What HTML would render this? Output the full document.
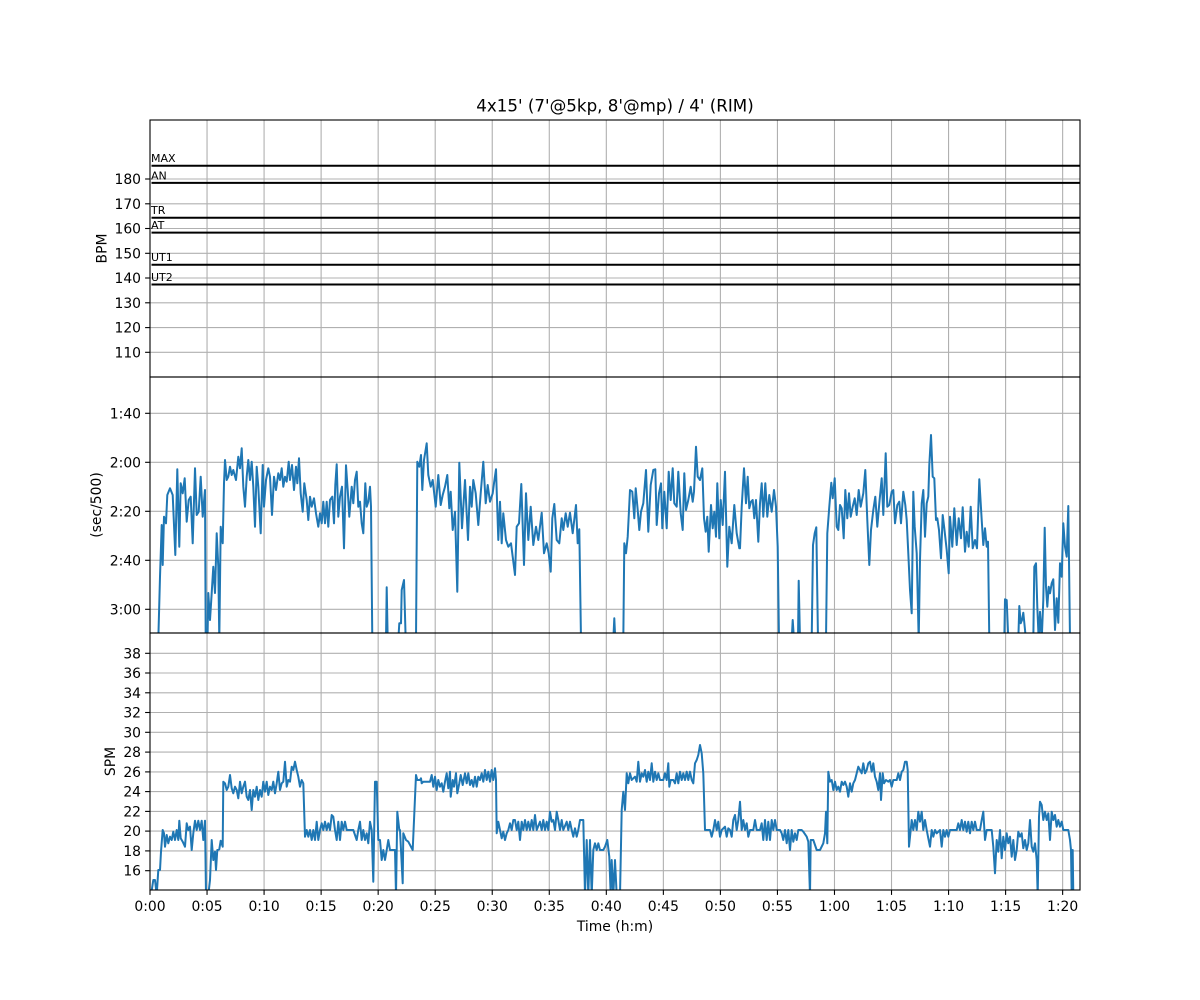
<!DOCTYPE html>
<html><head><meta charset="utf-8"><style>
html,body{margin:0;padding:0;background:#fff;}
svg{display:block;}
text{font-family:"DejaVu Sans","Liberation Sans",sans-serif;fill:#000;}
.tl{font-size:13.9px;}
.g{stroke:#b0b0b0;stroke-width:1.1;fill:none;}
.s{fill:none;stroke:#1f77b4;stroke-width:2;stroke-linejoin:round;stroke-linecap:square;}
.hr{stroke:#000;stroke-width:2;}
.sp{stroke:#000;stroke-width:1.1;fill:none;}
</style></head><body>
<svg width="1200" height="1000" viewBox="0 0 1200 1000" xmlns="http://www.w3.org/2000/svg">
<rect x="0" y="0" width="1200" height="1000" fill="#fff"/>
<defs>
<clipPath id="c2"><rect x="150" y="377" width="930" height="256"/></clipPath>
<clipPath id="c3"><rect x="150" y="633" width="930" height="257"/></clipPath>
</defs>
<!-- vertical grid -->
<g class="g">
<line x1="207.04" y1="120" x2="207.04" y2="890"/>
<line x1="264.08" y1="120" x2="264.08" y2="890"/>
<line x1="321.12" y1="120" x2="321.12" y2="890"/>
<line x1="378.16" y1="120" x2="378.16" y2="890"/>
<line x1="435.2" y1="120" x2="435.2" y2="890"/>
<line x1="492.24" y1="120" x2="492.24" y2="890"/>
<line x1="549.28" y1="120" x2="549.28" y2="890"/>
<line x1="606.32" y1="120" x2="606.32" y2="890"/>
<line x1="663.36" y1="120" x2="663.36" y2="890"/>
<line x1="720.4" y1="120" x2="720.4" y2="890"/>
<line x1="777.44" y1="120" x2="777.44" y2="890"/>
<line x1="834.48" y1="120" x2="834.48" y2="890"/>
<line x1="891.52" y1="120" x2="891.52" y2="890"/>
<line x1="948.56" y1="120" x2="948.56" y2="890"/>
<line x1="1005.6" y1="120" x2="1005.6" y2="890"/>
<line x1="1062.64" y1="120" x2="1062.64" y2="890"/>
<!-- top horizontal -->
<line x1="150" y1="179" x2="1080" y2="179"/>
<line x1="150" y1="203.8" x2="1080" y2="203.8"/>
<line x1="150" y1="228.5" x2="1080" y2="228.5"/>
<line x1="150" y1="253.3" x2="1080" y2="253.3"/>
<line x1="150" y1="278" x2="1080" y2="278"/>
<line x1="150" y1="302.8" x2="1080" y2="302.8"/>
<line x1="150" y1="327.6" x2="1080" y2="327.6"/>
<line x1="150" y1="352.3" x2="1080" y2="352.3"/>
<!-- middle horizontal -->
<line x1="150" y1="413.3" x2="1080" y2="413.3"/>
<line x1="150" y1="462.3" x2="1080" y2="462.3"/>
<line x1="150" y1="511.3" x2="1080" y2="511.3"/>
<line x1="150" y1="560.3" x2="1080" y2="560.3"/>
<line x1="150" y1="609.3" x2="1080" y2="609.3"/>
<!-- bottom horizontal -->
<line x1="150" y1="653.3" x2="1080" y2="653.3"/>
<line x1="150" y1="673" x2="1080" y2="673"/>
<line x1="150" y1="692.8" x2="1080" y2="692.8"/>
<line x1="150" y1="712.5" x2="1080" y2="712.5"/>
<line x1="150" y1="732.3" x2="1080" y2="732.3"/>
<line x1="150" y1="752.1" x2="1080" y2="752.1"/>
<line x1="150" y1="771.9" x2="1080" y2="771.9"/>
<line x1="150" y1="791.6" x2="1080" y2="791.6"/>
<line x1="150" y1="811.4" x2="1080" y2="811.4"/>
<line x1="150" y1="831.1" x2="1080" y2="831.1"/>
<line x1="150" y1="850.9" x2="1080" y2="850.9"/>
<line x1="150" y1="870.7" x2="1080" y2="870.7"/>
</g>
<!-- HR zone lines -->
<g class="hr">
<line x1="151.5" y1="165.7" x2="1080" y2="165.7"/>
<line x1="151.5" y1="182.9" x2="1080" y2="182.9"/>
<line x1="151.5" y1="217.7" x2="1080" y2="217.7"/>
<line x1="151.5" y1="232.6" x2="1080" y2="232.6"/>
<line x1="151.5" y1="264.8" x2="1080" y2="264.8"/>
<line x1="151.5" y1="284.5" x2="1080" y2="284.5"/>
</g>
<g style="font-size:11px">
<text x="151" y="162">MAX</text>
<text x="151" y="179.5">AN</text>
<text x="151" y="214">TR</text>
<text x="151" y="229">AT</text>
<text x="151" y="261">UT1</text>
<text x="151" y="281">UT2</text>
</g>
<!-- pace series -->
<g clip-path="url(#c2)">
<polyline class="s" points="158.3,640 160,576.7 161.7,525 162.7,565 164,516.7 166,523.3 167.3,495 170,488.3 172.7,495 175.3,555 177.3,469.3 179.3,546.7 180.7,483.3 182.7,493.3 184.7,478.3 186.7,521.7 188.7,500 190.7,496.7 192.7,543.3 195,468.3 196.7,515 198.7,511.7 200.7,476.7 202.7,516.7 205,490 205.7,640 207.5,640 208.3,593 210,620 211.7,593 213.3,566.7 215,593 216.7,533.3 218.3,566.7 219.3,640 220.7,526.7 222.7,543.3 224,483.3 225,460 226.7,480 228.3,476.7 230,466.7 231.7,475 233.3,470 236,480 238.3,456.7 240,468.3 241.7,448.3 243.3,486.7 245,506.7 246.7,476.7 248.3,460 250,480 251.7,461.7 253.3,486.7 255,526.7 256.7,466.7 258.3,486.7 260.7,533.3 262.7,465 264,506.7 266,480 268.3,468.3 270,476.7 272,515 274,476.7 276,490 278.3,473.3 280,480 281.7,468.3 283.3,486.7 285,476.7 286.7,481.7 288.7,461.7 290,480 292,465 294,490 296,466.7 297.3,483.3 299,458.3 300.7,493.3 302.7,511.7 304.3,483.3 306.7,500 308.3,520 310,496.7 311.7,506.7 314,498.3 316,513.3 318.3,526.7 320,513.3 321.7,523.3 323.3,501.7 325,523.3 326.7,501.7 328.3,526.7 330,500 332.3,496.7 334,523.3 335.3,485 336.7,464.3 338.3,516.7 340,496.7 342,486.7 344,548.3 346,465.3 347.7,490 349.3,516.7 351.7,486.7 353.3,503.3 355,480 356.7,471.7 358.3,506.7 360,501.7 361.7,523.3 363.3,533.3 365.3,483.3 366.7,506.7 368.3,501.7 370,486.7 371,506.7 372.3,640"/>
<polyline class="s" points="386,640 386.7,587.3 387.7,640"/>
<polyline class="s" points="398.3,640 399.3,623.3 401,623.3 401.7,590 404,580 405.7,640"/>
<polyline class="s" points="416,640 417.3,461.7 419.3,466.7 421,455 422.3,490 424,460 426.7,443.3 428.3,475 430.7,486.7 432.7,480 435.7,506.7 438.3,475 440.7,505 442.7,495 445,486.7 447.3,475 449.3,508.3 450.7,491.7 452.7,530 455,511.7 457.3,591.7 459.3,462.7 462,528.3 465,480 468,540 470,486.7 471.7,506.7 473.3,480 475.7,493.3 478.3,525 480.7,493.3 483.3,461.7 485.7,503.3 487.7,485 490,501.7 492.7,493.3 494,483.3 496,469.3 498.3,540 500,501.7 501.7,543.3 503.3,513.3 506,540 508.3,546.7 511,543.3 512.7,556.7 515,575 516.7,526.7 519,523.3 521.3,484 524,565 526,493.3 528.3,540 530.7,506.7 533.3,545 536,526.7 538.3,540 541.7,512.7 544,553.3 546.7,543.3 548.7,553.3 550.7,571.7 552.3,518.3 554.3,504 556.7,540 559.3,543.3 561.7,518.3 563.3,530 565.7,513.3 567.7,526.7 570,512.7 572.7,533.3 576,505 577.7,543.3 579.3,529.3 581,640"/>
<polyline class="s" points="613.3,640 614.3,618.3 615.3,640"/>
<polyline class="s" points="623.3,640 624.3,543.3 626,553.3 627.7,536.7 630,490 632.3,491.7 634.3,518.3 635.7,488.3 637.7,510 639.3,530 641,511.7 643.3,503.3 646,470 648.3,531.7 650.7,485 653.3,470 655.3,469.3 656.7,525 659,493.3 661,483.3 662.3,528.3 664.3,491.7 666.7,528.3 668.7,471.7 670.7,500 672.7,468.3 674.3,503.3 676.7,506.7 678.3,471.7 680.7,513.3 682.7,530 684.3,473.3 686,510 688.3,500 690.7,486.7 692.7,501.7 694,491.7 696,446.7 697.7,476.7 700,480 702.3,468.3 704,518.3 705.7,531.7 707.3,516.7 708.7,551.7 711,505 712.7,528.3 714.3,511.7 716,536.7 717.3,483.3 719.3,538.3 720.7,500 722.7,525 725,471.7 727.3,566.7 729.3,526.7 731.7,543.3 734.3,505 736.7,533.3 739.3,548.3 740,548.3 741.7,506.7 744,468.3 746,503.3 747.7,476.7 749.3,508.3 751,501.7 752.7,500 754.3,518.3 756,500 758.3,541.7 760,503.3 761.7,483.3 763.3,516.7 765.3,483.3 767.3,516.7 769.3,495 771.7,511.7 774,490 776,506.7 777.7,546.7 779,640"/>
<polyline class="s" points="791.7,640 792.7,620 794,640"/>
<polyline class="s" points="798,640 798.7,580.7 800,640"/>
<polyline class="s" points="811.7,640 813,545 814.7,533.3 816.3,527.3 818,640"/>
<polyline class="s" points="826,640 827.3,533.3 829.3,506.7 831.3,482.7 832.7,498.3 834.7,478.3 836.7,526.7 838.3,530 840,505 841.7,508.3 843.7,538.3 845.3,490 847.3,518.3 849,493.3 850.7,516.7 852.7,506.7 854.7,498.3 856.7,515 858.7,490 860.7,506.7 863.3,493.3 865.3,470 867.3,520 869.3,565 871,530 873.3,510 875.3,496.7 877.3,526.7 879.3,503.3 881.7,478.3 883.3,515 885.7,453.3 887.3,506.7 889.3,505 891.7,491.7 893.3,490 895,523.3 897.3,505 899.3,501.7 901,523.3 903.3,491.7 905.3,505 906.7,520 908.3,553.3 910,590 911.7,613.3 913.3,491.7 914.7,526.7 916.7,553.3 918.7,640 920,560 921.7,503.3 923.3,490 925,536.7 926.7,503.3 928.3,496.7 929.3,465 931,435 932.7,476.7 934.3,478.3 936,520 937.3,518.3 939,530 941,558.3 942.7,515 944.3,528.3 946.7,550 948.7,573.3 950,516.7 952.3,546.7 954.3,508.3 956.7,545 958.7,518.3 961,538.3 962.7,507.3 965,551.7 966.7,531.7 968.7,546.7 970.7,506.7 972.7,548.3 975,540 977,548.3 979.3,479.3 981.7,520 983.3,545 985,528.3 986.7,546.7 988,541.7 989.3,640"/>
<polyline class="s" points="1004.3,640 1005,599.3 1006.7,600 1008.3,640"/>
<polyline class="s" points="1018.3,640 1019.3,606 1020.7,623.3 1022,620 1023.3,612.7 1024.7,626.7 1026,640 1033.3,640 1034.3,566.7 1036,563.3 1037.3,606.7 1038.7,640 1040,611.7 1041.7,640 1043.3,600 1044.7,527.7 1046,586.7 1047.3,606.7 1048.7,586.7 1050,593.3 1051.7,583.3 1053.3,579.3 1055,630 1056.7,598.3 1058.3,622.7 1060,563.3 1061.7,576.7 1063.3,523.3 1065,546.7 1066.7,556.7 1068.3,506 1070,640"/>
</g>
<!-- SPM series -->
<g clip-path="url(#c3)">
<polyline class="s" points="151,895 153.3,880 155,880 156.7,895 158.3,870 160,870 161,851.7 162.7,830 164,833.3 165,846.7 166.7,835 168.3,843.3 170,836.7 171.7,840 173.3,831.7 175,840 176.7,830 178.3,840 179.3,820.7 180.7,838.3 182.7,841.7 185,846.7 186.7,823.3 188.3,830 190,826.7 191.7,850 193.3,833.3 195,820.7 196.7,830 198.3,820.7 200,830 201.7,820.7 203.3,840 205,820.7 206,895 208.3,895 210,880 211.7,840 213.3,860 215,851.7 216,870 217.3,850 219.3,849.3 220.7,840.7 222.7,846.7 223.3,781.7 225,783.3 226.7,790 228.3,786.7 230,775 231.7,788.3 233.3,793.3 235,786.7 236.7,790 238.3,798.3 240,781.7 241.7,793.3 243.3,786.7 245,781.7 246.7,796.7 248.3,800 250,790 251.7,810 253.3,790 255,796.7 256.7,786.7 258.3,800 260,790 261.7,796.7 263.3,781.7 265,791.7 266.7,781.7 268.3,795 270,786.7 271.7,790 273.3,781.7 275,793.3 276.7,783.3 278.3,771.7 280,790 281.7,783.3 283.3,781.7 285,761.7 286.7,786.7 288.3,780 290,781.7 291.7,766.7 293.3,770 295,761.7 296.7,770 298.3,776.7 300,786.7 301.7,780 303.3,783.3 305,836.7 306.7,830 308.3,836.7 310,830 311.7,840 313.3,830 315,840 316.7,821.7 318.3,840 320,830 321.7,823.3 323.3,830 325,821.7 326.7,830 328.3,823.3 330,830 331.7,815 333.3,816.7 335,830 336.7,840 338.3,821.7 340,840 341.7,821.7 343.3,830 345,821.7 346.7,830 350,830 353.3,830 356.7,840 358.3,830 360,821.7 361.7,840 363.3,830 365,840 366.7,833.3 368.3,843.3 370,821.7 371.7,830 373.3,881.7 375,781.7 376.7,781.7 378.3,840 380,840 381.7,860 383.3,850 385,860 386.7,850 388.3,840 390,850 393.3,850 395,850 396,895 397.3,811.7 399.3,830 400,830 401,850 402.7,883.3 403.3,833.3 406,840 408.3,841.7 412.7,850 416,775 417.3,780 420,780 421,778.3 421.7,783.3 423.3,781.7 430,781.7 431.7,775 433.3,786.7 435,776.7 436.7,790 438.3,780 440,786.7 441.7,783.3 443.3,791.7 445,781.7 446.7,773.3 448.3,788.3 450,771.7 450.7,796.7 452.7,780 454,786.7 456,773.3 457.3,793.3 459.3,783.3 460.7,775 462.7,785 465,773.3 466.7,783.3 468.3,773.3 470,785 471.7,780 473.3,786.7 475,776.7 476.7,786.7 478.3,776.7 480,780 481.7,773.3 483.3,781.7 485,770 486.7,780 488.3,771.7 490,781.7 491.7,770 493.3,780 495,768.3 496,780 496.7,833.3 498.3,821.7 500,830 501.7,838.3 503.3,831.7 505,840 506.7,833.3 508.3,830 510,823.3 511.7,830 513.3,820 515,820 516.7,830 518.3,821.7 520,840 521.7,821.7 523.3,830 525,820 526.7,830 528.3,821.7 530,830 531.7,820 533.3,830 535,815 536.7,830 540,821.7 541.7,830 543.3,820 545,830 546.7,821.7 548.3,830 550,811.7 551.7,821.7 553.3,820 555,830 556.7,811.7 558.3,820 560,830 561.7,820 563.3,830 566.7,821.7 568.3,830 570,821.7 571.7,830 573.3,836.7 575,828.3 576.7,836.7 578.3,830 580,820 583.3,820 585,895 586.7,840 588.3,895 590,840 591.7,895 593.3,850 595,843.3 596.7,850 598.3,843.3 600,850 603.3,850 605,846.7 607.3,840 609.3,856.7 610.7,895 611.7,860 613.3,895 615,860 616.7,895 620,895 621.7,810 623.3,791.7 625,810 626.7,773.3 628.3,783.3 630,773.3 631.7,780 633.3,778.3 635,776.7 636.7,781.7 638.3,761.7 640,781.7 641.7,773.3 643.3,776.7 645,770 646.7,781.7 648.3,771.7 650,780 651.7,763.3 653.3,781.7 655,771.7 656.7,780 658.3,773.3 660,780 663.3,780 665,773.3 666.7,780 668.3,763.3 669.3,786.7 670.7,780 673.3,780 675,783.3 676.7,773.3 678.3,783.3 680,771.7 681.7,780 683.3,773.3 685,780 686.7,771.7 688.3,780 690,771.7 691.7,780 693.3,783.3 695,763.3 696.7,760 698.3,755 700,745 701.7,753.3 703.3,773.3 705,830 710,830 711.7,836.7 713.3,830 715,820 716.7,830 718.3,821.7 720,836.7 721.7,830 725,826.7 726.7,836.7 728.3,828.3 730,830 731.7,836.7 733.3,820 735,815 736.7,830 738.3,820 740,801.7 741.7,830 743.3,820 745,830 746.7,823.3 748.3,836.7 750,830 753.3,830 755,820 756.7,830 760,830 761.7,823.3 763.3,840 765,820 766.7,840 768.3,821.7 770,840 771.7,820 773.3,830 775,820 776.7,830 780,830 781.7,833.3 783.3,840 785,830 786.7,843.3 788.3,830 790,850 791.7,830 793.3,841.7 795,833.3 796.7,840 798.3,830 801.7,830 803.3,831.7 806.7,836.7 808.3,841.7 810,895 810.7,840 813.3,840 816.7,850 820,850 823.3,843.3 825,833.3 826,811.7 827.3,843.3 828.3,771.7 830,781.7 831.7,780 833.3,790 835,781.7 836.7,790 838.3,786.7 840,791.7 841.7,781.7 843.3,785 845,781.7 846.7,786.7 848.3,796.7 850,783.3 851.7,791.7 853.3,783.3 855,780 856.7,773.3 858.3,766.7 860,770 861.7,773.3 863.3,763.3 865,773.3 866.7,770 868.3,763.3 870,761.7 871.7,771.7 873.3,763.3 875,776.7 876.7,781.7 878.3,790 880,773.3 881,800 882.7,773.3 884,783.3 886,780 888.3,781.7 890,780 891.7,786.7 893.3,780 896.7,780 898.3,773.3 900,780 901.7,771.7 903.3,770 905,761.7 906.7,761.7 907.7,770 909,846.7 910.7,830 911.7,820 913.3,830 915,820 916.7,830 918.3,811.7 920,821.7 921.7,811.7 923.3,830 925,820 926.7,830 928.3,838.3 930,846.7 931.7,830 933.3,836.7 935,830 936.7,833.3 940,830 941.7,846.7 943.3,830 945,836.7 946.7,830 948.3,836.7 950,830 956.7,830 958.3,823.3 960,830 961.7,820 963.3,830 965,821.7 966.7,831.7 968.3,821.7 970,833.3 971.7,821.7 973.3,830 975,821.7 976.7,830 980,830 981.7,820 983.3,811.7 985,840 986.7,830 991.7,830 993.3,846.7 995,873.3 996.7,840 998.3,851.7 1000,830 1001.7,858.3 1003.3,836.7 1005,850 1006.7,833.3 1008.3,843.3 1010,836.7 1011.7,856.7 1013.3,840 1015,860 1016.7,850 1018.3,831.7 1020,836.7 1021.7,833.3 1023.3,848.3 1025,840 1026.7,850 1028.3,843.3 1030,820 1031.7,846.7 1033.3,851.7 1035,843.3 1036.7,860 1037.7,895 1039,816.7 1040,801.7 1041.7,805 1043.3,820 1045,811.7 1046.7,820 1048.3,813.3 1050,840 1051.7,811.7 1053.3,820 1055,815 1056.7,826.7 1058.3,820 1060,826.7 1061.7,821.7 1063.3,830 1068.3,830 1070,840 1071,850 1071.7,895 1072.7,850 1073.3,895"/>
</g>
<!-- spines -->
<rect class="sp" x="150" y="120" width="930" height="257"/>
<rect class="sp" x="150" y="377" width="930" height="256"/>
<rect class="sp" x="150" y="633" width="930" height="257"/>
<!-- y ticks -->
<g stroke="#000" stroke-width="1.1">
<line x1="145.1" y1="179" x2="150" y2="179"/>
<line x1="145.1" y1="203.8" x2="150" y2="203.8"/>
<line x1="145.1" y1="228.5" x2="150" y2="228.5"/>
<line x1="145.1" y1="253.3" x2="150" y2="253.3"/>
<line x1="145.1" y1="278" x2="150" y2="278"/>
<line x1="145.1" y1="302.8" x2="150" y2="302.8"/>
<line x1="145.1" y1="327.6" x2="150" y2="327.6"/>
<line x1="145.1" y1="352.3" x2="150" y2="352.3"/>
<line x1="145.1" y1="413.3" x2="150" y2="413.3"/>
<line x1="145.1" y1="462.3" x2="150" y2="462.3"/>
<line x1="145.1" y1="511.3" x2="150" y2="511.3"/>
<line x1="145.1" y1="560.3" x2="150" y2="560.3"/>
<line x1="145.1" y1="609.3" x2="150" y2="609.3"/>
<line x1="145.1" y1="653.3" x2="150" y2="653.3"/>
<line x1="145.1" y1="673" x2="150" y2="673"/>
<line x1="145.1" y1="692.8" x2="150" y2="692.8"/>
<line x1="145.1" y1="712.5" x2="150" y2="712.5"/>
<line x1="145.1" y1="732.3" x2="150" y2="732.3"/>
<line x1="145.1" y1="752.1" x2="150" y2="752.1"/>
<line x1="145.1" y1="771.9" x2="150" y2="771.9"/>
<line x1="145.1" y1="791.6" x2="150" y2="791.6"/>
<line x1="145.1" y1="811.4" x2="150" y2="811.4"/>
<line x1="145.1" y1="831.1" x2="150" y2="831.1"/>
<line x1="145.1" y1="850.9" x2="150" y2="850.9"/>
<line x1="145.1" y1="870.7" x2="150" y2="870.7"/>
<!-- x ticks -->
<line x1="150" y1="890" x2="150" y2="894.9"/>
<line x1="207.04" y1="890" x2="207.04" y2="894.9"/>
<line x1="264.08" y1="890" x2="264.08" y2="894.9"/>
<line x1="321.12" y1="890" x2="321.12" y2="894.9"/>
<line x1="378.16" y1="890" x2="378.16" y2="894.9"/>
<line x1="435.2" y1="890" x2="435.2" y2="894.9"/>
<line x1="492.24" y1="890" x2="492.24" y2="894.9"/>
<line x1="549.28" y1="890" x2="549.28" y2="894.9"/>
<line x1="606.32" y1="890" x2="606.32" y2="894.9"/>
<line x1="663.36" y1="890" x2="663.36" y2="894.9"/>
<line x1="720.4" y1="890" x2="720.4" y2="894.9"/>
<line x1="777.44" y1="890" x2="777.44" y2="894.9"/>
<line x1="834.48" y1="890" x2="834.48" y2="894.9"/>
<line x1="891.52" y1="890" x2="891.52" y2="894.9"/>
<line x1="948.56" y1="890" x2="948.56" y2="894.9"/>
<line x1="1005.6" y1="890" x2="1005.6" y2="894.9"/>
<line x1="1062.64" y1="890" x2="1062.64" y2="894.9"/>
</g>
<!-- y tick labels -->
<g class="tl" text-anchor="end">
<text x="141" y="184">180</text>
<text x="141" y="208.8">170</text>
<text x="141" y="233.5">160</text>
<text x="141" y="258.3">150</text>
<text x="141" y="283">140</text>
<text x="141" y="307.8">130</text>
<text x="141" y="332.6">120</text>
<text x="141" y="357.3">110</text>
<text x="141" y="418.3">1:40</text>
<text x="141" y="467.3">2:00</text>
<text x="141" y="516.3">2:20</text>
<text x="141" y="565.3">2:40</text>
<text x="141" y="614.3">3:00</text>
<text x="141" y="658.3">38</text>
<text x="141" y="678">36</text>
<text x="141" y="697.8">34</text>
<text x="141" y="717.5">32</text>
<text x="141" y="737.3">30</text>
<text x="141" y="757.1">28</text>
<text x="141" y="776.9">26</text>
<text x="141" y="796.6">24</text>
<text x="141" y="816.4">22</text>
<text x="141" y="836.1">20</text>
<text x="141" y="855.9">18</text>
<text x="141" y="875.7">16</text>
</g>
<!-- x tick labels -->
<g class="tl" text-anchor="middle">
<text x="150" y="911">0:00</text>
<text x="207.04" y="911">0:05</text>
<text x="264.08" y="911">0:10</text>
<text x="321.12" y="911">0:15</text>
<text x="378.16" y="911">0:20</text>
<text x="435.2" y="911">0:25</text>
<text x="492.24" y="911">0:30</text>
<text x="549.28" y="911">0:35</text>
<text x="606.32" y="911">0:40</text>
<text x="663.36" y="911">0:45</text>
<text x="720.4" y="911">0:50</text>
<text x="777.44" y="911">0:55</text>
<text x="834.48" y="911">1:00</text>
<text x="891.52" y="911">1:05</text>
<text x="948.56" y="911">1:10</text>
<text x="1005.6" y="911">1:15</text>
<text x="1062.64" y="911">1:20</text>
</g>
<!-- axis labels -->
<text class="tl" x="615" y="931" text-anchor="middle">Time (h:m)</text>
<text class="tl" transform="translate(106.5,248.5) rotate(-90)" text-anchor="middle">BPM</text>
<text class="tl" transform="translate(101,505) rotate(-90)" text-anchor="middle">(sec/500)</text>
<text class="tl" transform="translate(115,761.5) rotate(-90)" text-anchor="middle">SPM</text>
<text x="615" y="111.5" text-anchor="middle" style="font-size:16.7px">4x15' (7'@5kp, 8'@mp) / 4' (RIM)</text>
</svg>
</body></html>
